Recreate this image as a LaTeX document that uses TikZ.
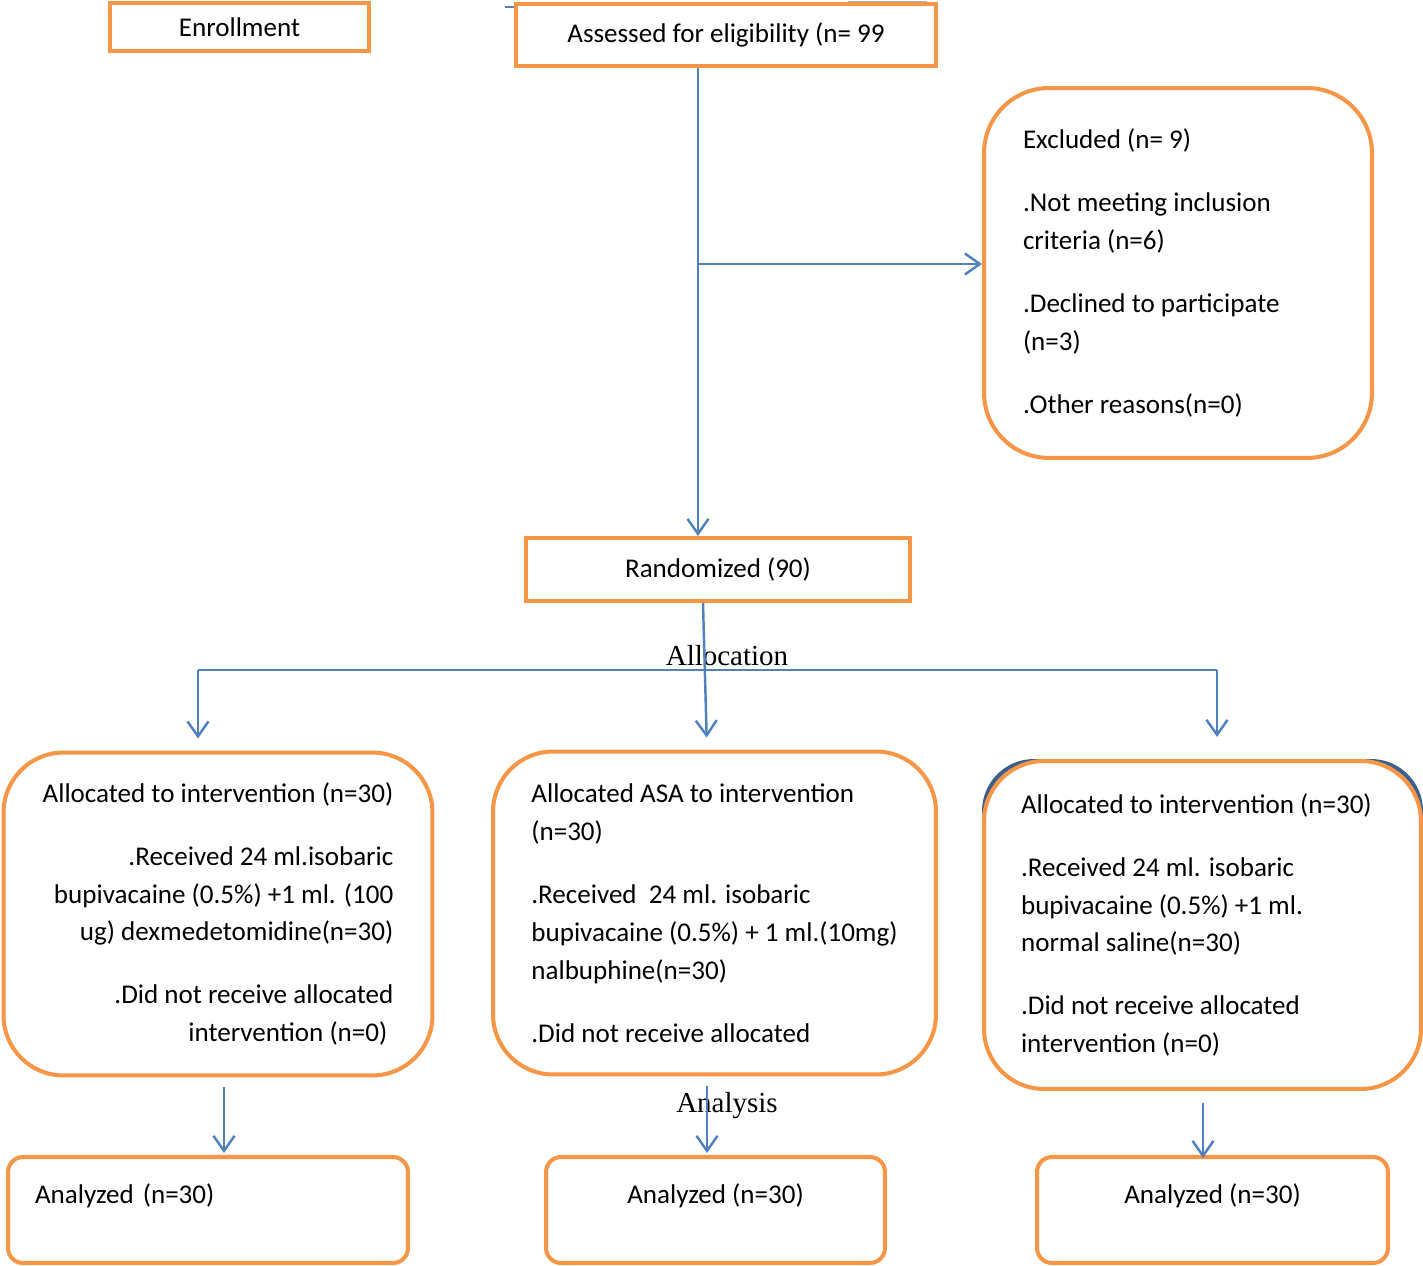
\documentclass[tikz,border=0pt]{standalone}
\usepackage{fontspec}
\setmainfont{Carlito}
\newfontfamily\timesfont{Liberation Serif}
\usetikzlibrary{arrows.meta,positioning,backgrounds}
\definecolor{boxorange}{HTML}{F79646}
\definecolor{flowblue}{HTML}{4F81BD}
\definecolor{shadeblue}{HTML}{3A5F8C}

\begin{document}
\begin{tikzpicture}[x=0.02cm, y=0.02cm, >={Straight Barb[length=3mm,width=4.2mm]},
  every node/.style={font=\fontsize{15.4pt}{21.6pt}\selectfont},
  block/.style={rectangle, draw=boxorange, line width=2.3pt, fill=white},
  roundbox/.style={block, rounded corners=1.2cm},
  smallbox/.style={block, rounded corners=0.3cm, inner ysep=0pt, text height=0.92cm, text depth=1.2cm},
  flow/.style={draw=flowblue, line width=1.4pt},
  caption/.style={anchor=base, font=\timesfont\fontsize{16.5pt}{20pt}\selectfont}]
  {
  \useasboundingbox (0,0) rectangle (1423,-1266);
  \node[block, minimum width=5.18cm, minimum height=0.96cm] (enroll) at (239.5,-27) {Enrollment};
  \node[block, minimum width=8.4cm, minimum height=1.24cm] (assess) at (726,-35) {Assessed for eligibility (n= 99};
  \node[roundbox, rounded corners=1.3cm, minimum width=7.76cm, minimum height=7.4cm, text width=6.2cm, align=flush left] (excl) at (1178,-273)
    {Excluded (n= 9)\\[0.5cm] .Not meeting inclusion\\ criteria (n=6)\\[0.5cm] .Declined to participate\\ (n=3)\\[0.5cm] .Other reasons(n=0)};
  \node[block, minimum width=7.68cm, minimum height=1.26cm] (rand) at (718,-569.5) {Randomized (90)};

  \node[roundbox, minimum width=8.58cm, minimum height=6.46cm, align=right] (alloc1) at (218,-914)
    {Allocated to intervention (n=30)\\[0.5cm] .Received 24 ml.isobaric\\ bupivacaine (0.5\%) +1 ml. (100\\ ug) dexmedetomidine(n=30)\\[0.5cm] .Did not receive allocated\\ intervention (n=0)\hspace*{0.12cm}};
  \node[roundbox, minimum width=8.86cm, minimum height=6.46cm, align=left] (alloc2) at (714.5,-913)
    {Allocated ASA to intervention\\ (n=30)\\[0.5cm] .Received\ \ 24 ml. isobaric\\ bupivacaine (0.5\%) + 1 ml.(10mg)\\ nalbuphine(n=30)\\[0.5cm] .Did not receive allocated};
  \node[roundbox, minimum width=8.74cm, minimum height=6.56cm, text width=7.26cm, align=flush left] (alloc3) at (1202.5,-925)
    {Allocated to intervention (n=30)\\[0.5cm] .Received 24 ml. isobaric\\ bupivacaine (0.5\%) +1 ml.\\ normal saline(n=30)\\[0.5cm] .Did not receive allocated\\ intervention (n=0)};
  \begin{pgfonlayer}{background}
    \draw[draw=shadeblue, line width=2.3pt, rounded corners=1cm] ([shift={(1.15pt,-1.15pt)}]alloc3.north west) rectangle ([shift={(-1.15pt,-2cm)}]alloc3.north east);
  \end{pgfonlayer}

  \node[smallbox, minimum width=8cm, text width=6.92cm] (an1) at (208,-1210) {Analyzed (n=30)};
  \node[smallbox, minimum width=6.78cm] (an2) at (715.5,-1210) {Analyzed (n=30)};
  \node[smallbox, minimum width=7.02cm] (an3) at (1212.5,-1210) {Analyzed (n=30)};

  \node[caption] (alloclabel) at (727,-665) {Allocation};
  \node[caption] (analabel) at (727,-1112) {Analysis};

  \node[coordinate] (stub) at (505,-7) {};
  \node[coordinate] (stubr) at (848,-1.5) {};
  \node[coordinate] (split) at (698,-264) {};
  \node[coordinate] (busl) at (198,-670) {};
  \node[coordinate] (busm) at (707,-670) {};
  \node[coordinate] (busr) at (1217,-670) {};

  \draw[flow, line width=0.8pt] (stub) -- (stub -| assess.west);
  \draw[flow, line width=0.6pt, draw opacity=0.6] (stubr) -- ++(79,0);
  \draw[flow, ->] (assess.south -| split) -- (rand.north -| split);
  \draw[flow, ->] (split) -- (split -| excl.west);
  \draw[flow] (busl) -- (busr);
  \draw[flow, ->, shorten >=0.24cm] (busl) -- (busl |- alloc1.north);
  \draw[flow, ->, shorten >=0.44cm] (busr) -- (busr |- alloc3.north);
  \draw[flow, ->, shorten >=0.24cm] ([xshift=-0.3cm]rand.south) -- (busm |- alloc2.north);
  \draw[flow, ->, shorten <=0.2cm, shorten >=0.04cm] ([xshift=0.12cm]alloc1.south) -- ([xshift=0.12cm]alloc1.south |- an1.north);
  \draw[flow, ->, shorten <=0.2cm, shorten >=0.04cm] ([xshift=-0.15cm]alloc2.south) -- ([xshift=-0.15cm]alloc2.south |- an2.north);
  \draw[flow, ->, shorten <=0.24cm, shorten >=-0.06cm] ([xshift=0.01cm]alloc3.south) -- ([xshift=0.01cm]alloc3.south |- an3.north);
  }
\end{tikzpicture}
\end{document}
